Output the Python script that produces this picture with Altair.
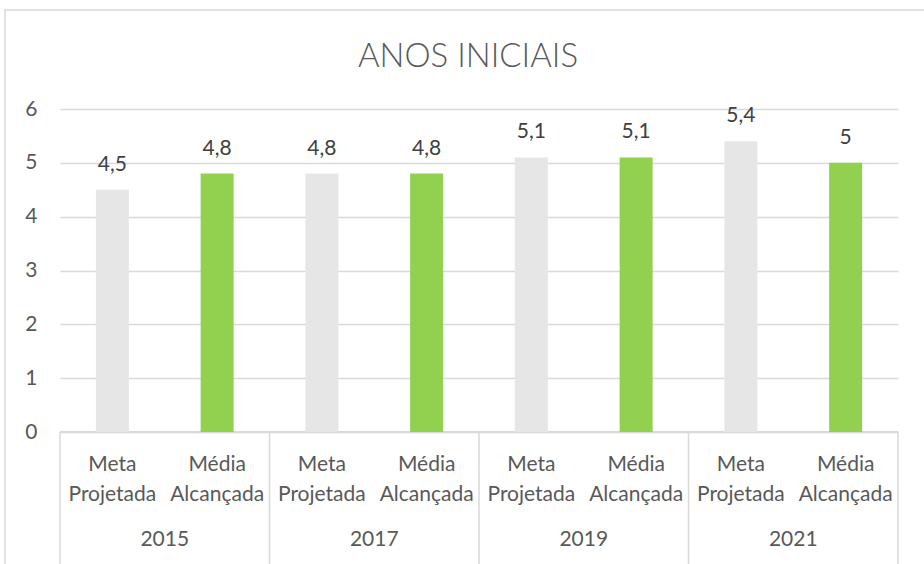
import altair as alt
import pandas as pd

years = ["2015", "2017", "2019", "2021"]
series = ["Meta Projetada", "Média Alcançada"]
sub_labels = ["Meta\nProjetada", "Média\nAlcançada"]
meta_projetada = [4.5, 4.8, 5.1, 5.4]
media_alcancada = [4.8, 4.8, 5.1, 5.0]
y_ticks = [0, 1, 2, 3, 4, 5, 6]

rows = []
for i, yr in enumerate(years):
    for j, (s, lab, vals) in enumerate(zip(series, sub_labels, [meta_projetada, media_alcancada])):
        rows.append({"ano": yr, "serie": s, "sub": lab, "valor": vals[i], "pos": i * 2 + j + 0.5})
df = pd.DataFrame(rows)
df_years = pd.DataFrame({"ano": years, "pos": [i * 2 + 1 for i in range(len(years))]})
df_seps = pd.DataFrame({"sep": [i * 2 for i in range(len(years) + 1)]})

W, H = 838, 323
FONT = "Lato"
TXT = "#595959"
FS = 21

xs = alt.Scale(domain=[0, 8], nice=False, zero=False, padding=0)
ys = alt.Scale(domain=[0, 6], nice=False)

base = alt.Chart(df)

bars = base.mark_bar(size=33).encode(
    x=alt.X("pos:Q", scale=xs, axis=None),
    y=alt.Y("valor:Q", scale=ys, axis=alt.Axis(
        values=y_ticks, format="d", title=None, domain=False, ticks=False,
        grid=True, gridColor="#D9D9D9", gridWidth=1.3,
        labelFont=FONT, labelFontSize=FS, labelColor=TXT, labelPadding=23)),
    color=alt.Color("serie:N", scale=alt.Scale(domain=series, range=["#E7E6E6", "#92D050"]), legend=None),
)

vals = base.transform_calculate(
    txt="replace(toString(datum.valor), '.', ',')"
).mark_text(font=FONT, fontSize=FS, color="#404040", baseline="alphabetic", dy=-19).encode(
    x=alt.X("pos:Q", scale=xs), y=alt.Y("valor:Q", scale=ys), text="txt:N"
)

subs = base.mark_text(font=FONT, fontSize=FS, color=TXT, baseline="alphabetic",
                      lineBreak="\n", lineHeight=30).encode(
    x=alt.X("pos:Q", scale=xs), y=alt.value(H + 39), text="sub:N"
)

yrs = alt.Chart(df_years).mark_text(font=FONT, fontSize=FS, color=TXT, baseline="alphabetic").encode(
    x=alt.X("pos:Q", scale=xs), y=alt.value(H + 114), text="ano:N"
)

seps = alt.Chart(df_seps).mark_rule(color="#D9D9D9", strokeWidth=1.5).encode(
    x=alt.X("sep:Q", scale=xs), y=alt.value(H), y2=alt.value(H + 140)
)

axis_line = alt.Chart(df_seps).mark_rule(color="#D9D9D9", strokeWidth=1.5).encode(
    x=alt.value(0), x2=alt.value(W), y=alt.value(H)
)

title = alt.Chart(pd.DataFrame({"t": ["ANOS INICIAIS"]})).mark_text(
    font=FONT, fontSize=33, fontWeight=300, color=TXT, baseline="middle"
).encode(x=alt.value(408), y=alt.value(-52), text="t:N")

border = alt.Chart(pd.DataFrame({"t": [1]})).mark_rect(
    fill=None, stroke="#D9D9D9", strokeWidth=1.5
).encode(x=alt.value(-55), x2=alt.value(W + 40), y=alt.value(-99), y2=alt.value(H + 150))

chart = alt.layer(border, axis_line, bars, vals, subs, yrs, seps, title).properties(
    width=W, height=H,
    background="white",
    autosize=alt.AutoSizeParams(type="none"),
    padding={"left": 60, "top": 109, "right": 26, "bottom": 132},
).configure_view(stroke=None)

chart.save("out.html", embed_options={"renderer": "svg", "actions": False})
